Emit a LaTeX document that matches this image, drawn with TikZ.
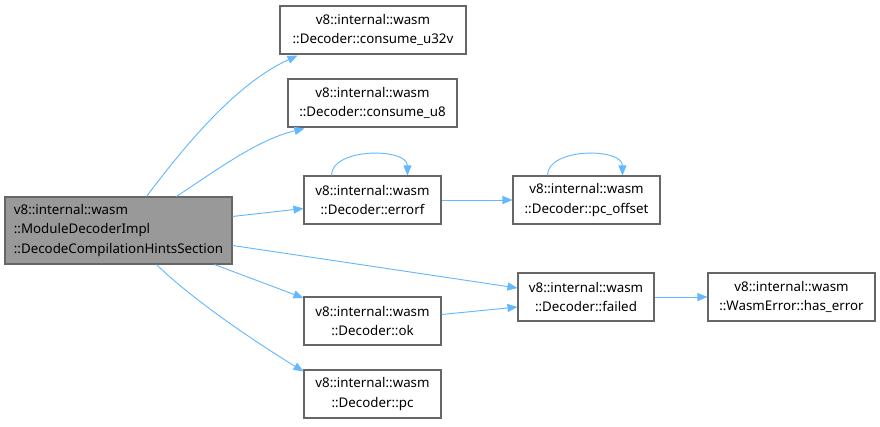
\documentclass[tikz,border=0pt]{standalone}
\usepackage{fontspec}
\setmainfont{Noto Sans}
\usetikzlibrary{arrows.meta,calc}
\definecolor{edgecol}{HTML}{63B8FF}
\definecolor{boxborder}{HTML}{666666}
\definecolor{mainfill}{HTML}{999999}
\tikzset{
  fn/.style={draw=boxborder, line width=0.8pt, fill=white, align=center, inner sep=0pt, minimum height=36pt, font=\fontsize{10}{14.5}\selectfont},
  mainfn/.style={fn, fill=mainfill, align=left, minimum height=50.25pt},
  call/.style={draw=edgecol, line width=0.7pt, -{Triangle[length=7.5pt,width=6pt]}}
}
\begin{document}
\begin{tikzpicture}[x=0.75pt,y=-0.75pt]
\useasboundingbox (0,0) rectangle (880,426);
\node[mainfn, minimum width=170.25pt] (main) at (118.5,230.5) {v8::internal::wasm\\::ModuleDecoderImpl\\::DecodeCompilationHintsSection};
\node[fn, minimum width=139.5pt] (u32v) at (373,30) {v8::internal::wasm\\::Decoder::consume\_u32v};
\node[fn, minimum width=126.75pt] (u8) at (372.5,103) {v8::internal::wasm\\::Decoder::consume\_u8};
\node[fn, minimum width=102.75pt] (errorf) at (372.5,200) {v8::internal::wasm\\::Decoder::errorf};
\node[fn, minimum width=110.25pt] (pcoff) at (586.5,200) {v8::internal::wasm\\::Decoder::pc\_offset};
\node[fn, minimum width=102pt] (failed) at (586,297) {v8::internal::wasm\\::Decoder::failed};
\node[fn, minimum width=125.25pt] (haserr) at (791.5,297) {v8::internal::wasm\\::WasmError::has\_error};
\node[fn, minimum width=102.75pt] (ok) at (372.5,321) {v8::internal::wasm\\::Decoder::ok};
\node[fn, minimum width=102.75pt] (pc) at (372.5,394) {v8::internal::wasm\\::Decoder::pc};

\draw[call] ($(main.north west)+(142,0)$) .. controls ($(main.north west)+(180,-50)$) and ($(u32v.south west)+(-45,30)$) .. ($(u32v.south west)+(18,1)$);
\draw[call] ($(main.north west)+(172,0)$) .. controls ($(main.north west)+(210,-25)$) and ($(u8.south west)+(-30,12)$) .. ($(u8.south west)+(17,1)$);
\draw[call] ($(main.north east)+(0,20)$) -- ($(errorf.west)+(0,8.5)$);
\draw[call] ($(main.north east)+(0,49)$) -- ($(failed.west)+(0,-9)$);
\draw[call] ($(main.south west)+(210,0)$) -- ($(ok.north west)+(0,1.5)$);
\draw[call] ($(main.south west)+(152,0)$) .. controls ($(main.south west)+(185,32)$) and ($(pc.north west)+(-60,-35)$) .. ($(pc.north west)+(0,2)$);
\draw[call] ($(errorf.north west)+(28,0)$) .. controls ($(errorf.north west)+(28,-28)$) and ($(errorf.north west)+(104,-28)$) .. ($(errorf.north west)+(104,0)$);
\draw[call] (errorf.east) -- (pcoff.west);
\draw[call] ($(pcoff.north west)+(35,0)$) .. controls ($(pcoff.north west)+(35,-28)$) and ($(pcoff.north west)+(110,-28)$) .. ($(pcoff.north west)+(110,0)$);
\draw[call] ($(ok.east)+(0,-6.5)$) -- ($(failed.west)+(0,10)$);
\draw[call] (failed.east) -- (haserr.west);
\end{tikzpicture}
\end{document}
